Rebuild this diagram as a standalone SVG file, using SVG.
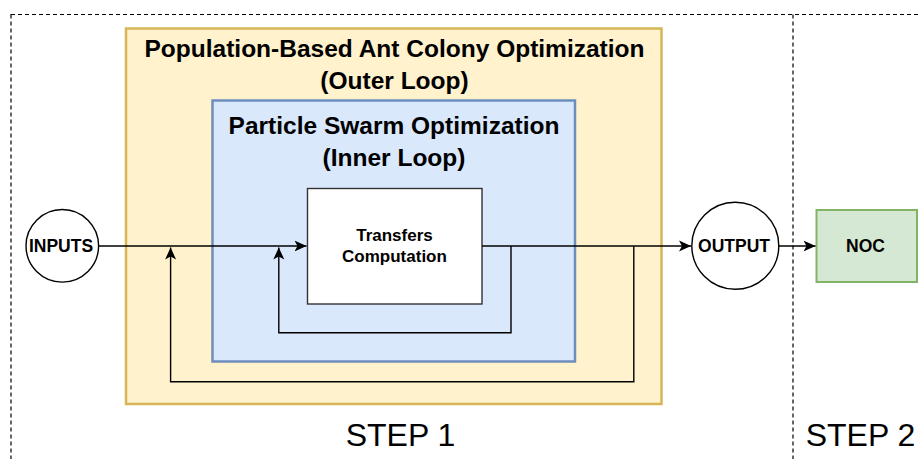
<svg xmlns="http://www.w3.org/2000/svg" width="919" height="459" viewBox="0 0 919 459">
<defs>
<style>
.frame{fill:none;stroke:#000;stroke-width:1.2;stroke-dasharray:4 3}
.lbl{font-family:"Liberation Sans",Arial,sans-serif;font-weight:bold;fill:#000;text-anchor:middle}
.big{font-family:"Liberation Sans",Arial,sans-serif;font-size:32px;fill:#000;text-anchor:middle}
.edge{fill:none;stroke:#000;stroke-width:1.4}
</style>
<marker id="arr" markerUnits="userSpaceOnUse" viewBox="-12 -6 13 12" refX="0" refY="0" markerWidth="13" markerHeight="12" orient="auto">
<path d="M0,0 L-12,-5.5 L-9,0 L-12,5.5 Z" fill="#000"/>
</marker>
</defs>
<rect width="919" height="459" fill="#fff"/>
<g id="frame">
<rect class="frame" x="11" y="14.5" width="1000" height="500"/>
<line class="frame" x1="793" y1="14.5" x2="793" y2="459"/>
</g>
<g id="step-labels">
<text class="big" x="400.5" y="446">STEP 1</text>
<text class="big" x="860.5" y="446">STEP 2</text>
</g>
<g id="aco">
<rect x="126" y="28.5" width="535.5" height="375.5" fill="#fff2cc" stroke="#d6b656" stroke-width="2.5"/>
<text class="lbl" font-size="24.5" x="394.5" y="57">Population-Based Ant Colony Optimization</text>
<text class="lbl" font-size="24.5" x="394.5" y="88.5">(Outer Loop)</text>
</g>
<g id="pso">
<rect x="212.5" y="100.5" width="362.5" height="261" fill="#dae8fc" stroke="#6c8ebf" stroke-width="2.5"/>
<text class="lbl" font-size="24.5" x="394" y="134">Particle Swarm Optimization</text>
<text class="lbl" font-size="24.5" x="394" y="165.5">(Inner Loop)</text>
</g>
<g id="transfers">
<rect x="307.5" y="188.5" width="174.5" height="115.5" fill="#fff" stroke="#333" stroke-width="1.4"/>
<text class="lbl" font-size="17" x="394.5" y="241">Transfers</text>
<text class="lbl" font-size="17" x="394.5" y="262">Computation</text>
</g>
<g id="inputs">
<circle cx="62.3" cy="245.8" r="36.3" fill="#fff" stroke="#000" stroke-width="1.4"/>
<text class="lbl" font-size="17.5" x="61" y="251.5">INPUTS</text>
</g>
<g id="output">
<circle cx="735.3" cy="245.8" r="43.5" fill="#fff" stroke="#000" stroke-width="1.4"/>
<text class="lbl" font-size="17.5" x="734" y="251.5">OUTPUT</text>
</g>
<g id="noc">
<rect x="816.5" y="210" width="100.5" height="72" fill="#d5e8d4" stroke="#82b366" stroke-width="2"/>
<text class="lbl" font-size="17.5" x="865.5" y="251.5">NOC</text>
</g>
<g id="connectors">
<path class="edge" d="M98.6,246 H306.5" marker-end="url(#arr)"/>
<path class="edge" d="M482,246 H691" marker-end="url(#arr)"/>
<path class="edge" d="M511,246 V332.7 H278.8 V247.5" marker-end="url(#arr)"/>
<path class="edge" d="M633.8,246 V381.7 H170.6 V247.5" marker-end="url(#arr)"/>
<path class="edge" d="M778.8,246 H815.5" marker-end="url(#arr)"/>
</g>
</svg>
